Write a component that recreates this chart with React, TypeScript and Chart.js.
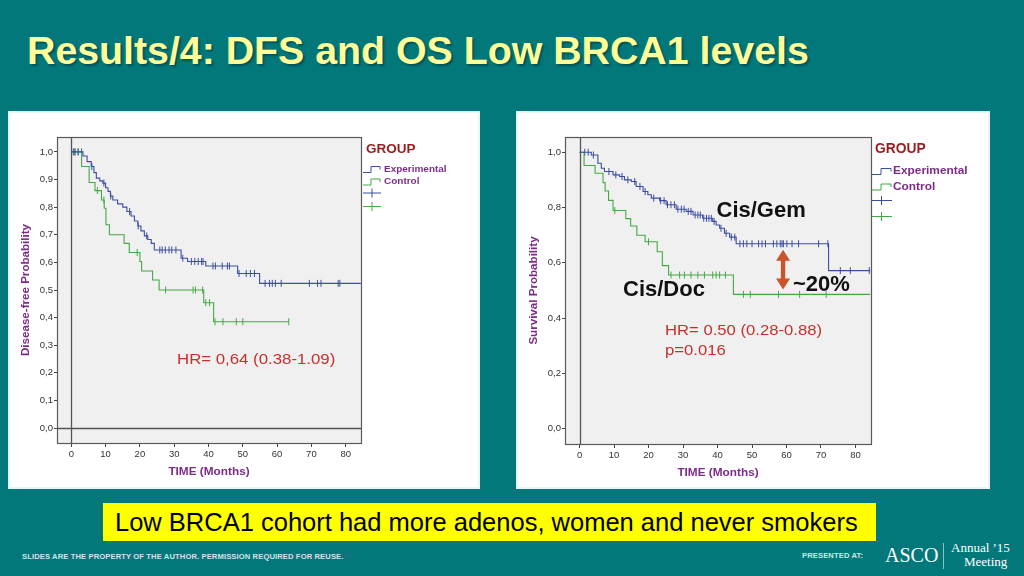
import React, { useEffect, useRef } from 'react';
import { Chart, registerables } from 'chart.js';

Chart.register(...registerables);

// ---------- tick labels / categories ----------
const TIME_TICKS = [0, 10, 20, 30, 40, 50, 60, 70, 80];
const DFS_Y_TICKS = [0, 0.1, 0.2, 0.3, 0.4, 0.5, 0.6, 0.7, 0.8, 0.9, 1.0];
const OS_Y_TICKS = [0, 0.2, 0.4, 0.6, 0.8, 1.0];
const GROUPS = ['Experimental', 'Control'];

// ---------- DFS (left) ----------
const dfsExpTimes = [0, 3.4, 4.6, 5.8, 6.6, 7.3, 8.3, 9.2, 10.0, 10.7, 11.4, 12.1, 13.5, 15.0, 16.2, 17.4, 18.4, 19.4, 20.3, 21.3, 22.3, 23.3, 24.2, 32.0, 33.9, 39.2, 48.5, 54.9];
const dfsExpSurv = [1.0, 0.985, 0.965, 0.947, 0.925, 0.905, 0.895, 0.887, 0.87, 0.857, 0.84, 0.826, 0.812, 0.8, 0.784, 0.768, 0.75, 0.732, 0.714, 0.696, 0.683, 0.669, 0.645, 0.615, 0.603, 0.587, 0.56, 0.524];
const dfsExpEnd = 84.4;
const dfsExpCensor = [0.6, 1.1, 2.0, 3.0, 6.0, 9.5, 11.5, 17.0, 19.5, 22.0, 25.8, 26.5, 27.4, 28.5, 29.3, 30.5, 32.5, 35.0, 36.0, 37.0, 38.0, 38.4, 41.3, 42.0, 44.0, 45.5, 46.1, 48.9, 51.0, 52.2, 53.4, 56.5, 57.8, 58.6, 59.5, 61.2, 69.4, 71.8, 72.8, 77.8, 78.3];

const dfsCtlTimes = [0, 3.0, 5.2, 6.9, 8.8, 9.6, 10.1, 11.1, 15.4, 16.9, 20.0, 20.5, 23.7, 25.6, 38.6, 41.5];
const dfsCtlSurv = [1.0, 0.947, 0.889, 0.86, 0.826, 0.796, 0.736, 0.7, 0.669, 0.636, 0.603, 0.569, 0.536, 0.5, 0.454, 0.385];
const dfsCtlEnd = 63.4;
const dfsCtlCensor = [1.0, 2.0, 7.6, 9.5, 19.2, 27.5, 35.5, 36.2, 38.3, 39.2, 40.3, 41.9, 44.2, 48.1, 50.0, 63.4];

// ---------- OS (right) ----------
const osExpTimes = [0, 3.4, 5.3, 6.3, 7.2, 9.7, 11.6, 13.0, 15.0, 16.4, 18.4, 19.8, 20.8, 23.2, 25.1, 28.0, 30.9, 32.9, 35.7, 38.6, 39.6, 40.6, 42.0, 43.5, 45.4, 72.2];
const osExpSurv = [1.0, 0.99, 0.96, 0.942, 0.93, 0.918, 0.912, 0.9, 0.894, 0.876, 0.858, 0.846, 0.834, 0.825, 0.81, 0.794, 0.786, 0.773, 0.761, 0.75, 0.737, 0.725, 0.707, 0.693, 0.669, 0.572];
const osExpEnd = 84.3;
const osExpCensor = [1.5, 2.5, 4.0, 8.5, 10.5, 12.3, 14.0, 16.0, 17.5, 19.0, 21.5, 23.5, 24.5, 25.5, 26.5, 27.5, 28.5, 29.5, 30.3, 31.5, 32.3, 33.5, 34.3, 35.0, 36.0, 36.8, 37.5, 38.2, 39.0, 41.0, 42.5, 44.0, 45.0, 46.5, 47.5, 48.5, 50.0, 51.9, 52.9, 53.9, 56.2, 57.2, 58.2, 58.7, 59.1, 60.1, 61.6, 63.5, 69.3, 72.0, 75.6, 78.5, 84.0];

const osCtlTimes = [0, 1.3, 4.5, 6.8, 7.4, 8.4, 9.7, 13.4, 14.8, 16.6, 19.0, 22.5, 24.0, 25.8, 44.6];
const osCtlSurv = [1.0, 0.952, 0.924, 0.89, 0.86, 0.826, 0.789, 0.76, 0.733, 0.7, 0.676, 0.64, 0.59, 0.556, 0.486];
const osCtlEnd = 84.3;
const osCtlCensor = [10.2, 20.0, 26.5, 29.0, 30.4, 32.3, 34.3, 36.2, 38.6, 39.6, 40.6, 42.3, 47.5, 49.5, 57.7, 63.8, 71.5];

// arrow marking the ~20% gap (time, lower and upper survival)
const gapArrowTime = 59.0;
const gapArrowLow = 0.504;
const gapArrowHigh = 0.647;

// ---------- styles ----------
const TEAL = '#03787b';
const BLUE = '#3c4ea0';
const GREEN = '#45a845';
const PURPLE = '#7c2c86';
const GROUP_RED = '#9b1c1c';
const NOTE_RED = '#c8302c';
const ARROW = '#c9542c';
const SANS = '"Liberation Sans", Arial, sans-serif';

type Curve = { times: number[]; surv: number[]; end: number; censor: number[] };
type Note = { text: string; x: number; y: number; font: string; color: string; sx?: number };
type Legend = {
  gx: number; gy: number; gSize: number;
  x0: number; xm: number; x1: number; tx: number; tFont: string; tsx: number;
  rowY: number[]; crossY: number[]; crossX: number;
};
type Spec = {
  id: string; width: number; height: number;
  area: { left: number; top: number; right: number; bottom: number };
  xRange: [number, number]; yRange: [number, number];
  yTicks: number[]; yTitle: string; yTitleSize: number; yTitlePad: number; xTitlePad: number;
  exp: Curve; ctl: Curve; zeroLine: boolean; legend: Legend; notes: Note[];
  arrow?: { x: number; low: number; high: number };
};

function stepPoints(c: Curve) {
  const pts = c.times.map((t, i) => ({ x: t, y: c.surv[i] }));
  pts.push({ x: c.end, y: c.surv[c.surv.length - 1] });
  return pts;
}
function survAt(c: Curve, t: number) {
  let v = c.surv[0];
  for (let i = 0; i < c.times.length; i++) if (c.times[i] <= t) v = c.surv[i];
  return v;
}
function censorPoints(c: Curve) {
  return c.censor.map((t) => ({ x: t, y: survAt(c, t) }));
}

function drawText(ctx: CanvasRenderingContext2D, s: string, x: number, y: number, font: string, color: string, sx = 1) {
  ctx.save();
  ctx.font = font;
  ctx.fillStyle = color;
  ctx.textBaseline = 'middle';
  ctx.textAlign = 'left';
  ctx.translate(x, y);
  ctx.scale(sx, 1);
  ctx.fillText(s, 0, 0);
  ctx.restore();
}

function decorPlugin(spec: Spec) {
  return {
    id: 'decor_' + spec.id,
    beforeDraw(chart: any) {
      const { ctx, chartArea: a } = chart;
      ctx.save();
      ctx.fillStyle = '#f0f0f0';
      ctx.fillRect(a.left, a.top, a.right - a.left, a.bottom - a.top);
      ctx.restore();
    },
    beforeDatasetsDraw(chart: any) {
      const { ctx, chartArea: a, scales } = chart;
      ctx.save();
      ctx.strokeStyle = '#555';
      ctx.lineWidth = 1.3;
      const x0 = Math.round(scales.x.getPixelForValue(0)) + 0.5;
      ctx.beginPath();
      ctx.moveTo(x0, a.top);
      ctx.lineTo(x0, a.bottom);
      ctx.stroke();
      if (spec.zeroLine) {
        const y0 = Math.round(scales.y.getPixelForValue(0)) + 0.5;
        ctx.beginPath();
        ctx.moveTo(a.left, y0);
        ctx.lineTo(a.right, y0);
        ctx.stroke();
      }
      ctx.restore();
    },
    afterDraw(chart: any) {
      const { ctx, chartArea: a, scales } = chart;
      ctx.save();
      ctx.strokeStyle = '#5a5a5a';
      ctx.lineWidth = 1.2;
      ctx.strokeRect(Math.round(a.left) + 0.5, Math.round(a.top) + 0.5, Math.round(a.right - a.left), Math.round(a.bottom - a.top));
      ctx.restore();

      // legend
      const L = spec.legend;
      drawText(ctx, 'GROUP', L.gx, L.gy, `bold ${L.gSize}px ${SANS}`, GROUP_RED);
      [BLUE, GREEN].forEach((c, i) => {
        const y = L.rowY[i];
        ctx.save();
        ctx.strokeStyle = c;
        ctx.lineWidth = 1;
        ctx.beginPath();
        ctx.moveTo(L.x0, y + 3.5);
        ctx.lineTo(L.xm, y + 3.5);
        ctx.lineTo(L.xm, y - 2.5);
        ctx.lineTo(L.x1, y - 2.5);
        ctx.lineTo(L.x1, y + 0.5);
        ctx.stroke();
        const cy = L.crossY[i];
        ctx.beginPath();
        ctx.moveTo(L.x0, cy + 0.5);
        ctx.lineTo(L.x1 + 1, cy + 0.5);
        ctx.moveTo(L.crossX + 0.5, cy - 4);
        ctx.lineTo(L.crossX + 0.5, cy + 5);
        ctx.stroke();
        ctx.restore();
        drawText(ctx, GROUPS[i], L.tx, y, L.tFont, PURPLE, L.tsx);
      });

      // notes
      spec.notes.forEach((n) => drawText(ctx, n.text, n.x, n.y, n.font, n.color, n.sx || 1));

      // arrow
      if (spec.arrow) {
        const ar = spec.arrow;
        const x = scales.x.getPixelForValue(ar.x);
        const yt = scales.y.getPixelForValue(ar.high);
        const yb = scales.y.getPixelForValue(ar.low);
        ctx.save();
        ctx.fillStyle = ARROW;
        ctx.fillRect(x - 2.2, yt + 8, 4.4, yb - yt - 16);
        ctx.beginPath();
        ctx.moveTo(x, yt);
        ctx.lineTo(x + 7, yt + 11);
        ctx.lineTo(x - 7, yt + 11);
        ctx.closePath();
        ctx.fill();
        ctx.beginPath();
        ctx.moveTo(x, yb);
        ctx.lineTo(x + 7, yb - 11);
        ctx.lineTo(x - 7, yb - 11);
        ctx.closePath();
        ctx.fill();
        ctx.restore();
      }
    },
  };
}

function buildConfig(spec: Spec): any {
  const a = spec.area;
  const tickFont = { family: SANS, size: 9.5 };
  const curveDs = (c: Curve, color: string) => ({
    type: 'line',
    data: stepPoints(c),
    stepped: true,
    borderColor: color,
    borderWidth: 1.1,
    pointRadius: 0,
    fill: false,
  });
  const censorDs = (c: Curve, color: string) => ({
    type: 'scatter',
    data: censorPoints(c),
    showLine: false,
    pointStyle: 'line',
    pointRotation: 90,
    pointRadius: 3.5,
    pointBorderColor: color,
    pointBackgroundColor: color,
    pointBorderWidth: 1,
  });
  return {
    type: 'scatter',
    data: {
      datasets: [
        curveDs(spec.exp, BLUE),
        curveDs(spec.ctl, GREEN),
        censorDs(spec.exp, BLUE),
        censorDs(spec.ctl, GREEN),
      ],
    },
    options: {
      responsive: false,
      animation: false,
      events: [],
      layout: { padding: { left: 0, top: a.top, right: spec.width - a.right, bottom: 0 } },
      plugins: { legend: { display: false }, tooltip: { enabled: false }, title: { display: false } },
      scales: {
        x: {
          type: 'linear',
          min: spec.xRange[0],
          max: spec.xRange[1],
          afterFit: (s: any) => { s.height = spec.height - a.bottom; },
          afterBuildTicks: (s: any) => { s.ticks = TIME_TICKS.map((v) => ({ value: v })); },
          grid: { display: true, drawOnChartArea: false, drawTicks: true, tickLength: 4, color: '#444', lineWidth: 1 },
          border: { display: false },
          ticks: { font: tickFont, color: '#333', padding: 2, autoSkip: false, maxRotation: 0, callback: (v: any) => String(v) },
          title: { display: true, text: 'TIME (Months)', color: PURPLE, font: { family: SANS, size: 11.8, weight: 'bold' }, padding: { top: 0, bottom: spec.xTitlePad } },
        },
        y: {
          type: 'linear',
          min: spec.yRange[0],
          max: spec.yRange[1],
          afterFit: (s: any) => { s.width = a.left; },
          afterBuildTicks: (s: any) => { s.ticks = spec.yTicks.map((v) => ({ value: v })); },
          grid: { display: true, drawOnChartArea: false, drawTicks: true, tickLength: 3, color: '#444', lineWidth: 1 },
          border: { display: false },
          ticks: { font: tickFont, color: '#333', padding: 1, autoSkip: false, callback: (v: any) => Number(v).toFixed(1).replace('.', ',') },
          title: { display: true, text: spec.yTitle, color: PURPLE, font: { family: SANS, size: spec.yTitleSize, weight: 'bold' }, padding: { top: spec.yTitlePad, bottom: 0 } },
        },
      },
    },
    plugins: [decorPlugin(spec)],
  };
}

const dfsSpec: Spec = {
  id: 'dfs', width: 472, height: 378,
  area: { left: 49, top: 26, right: 353, bottom: 332 },
  xRange: [-4.17, 84.46], yRange: [-0.054, 1.054],
  yTicks: DFS_Y_TICKS, yTitle: 'Disease-free Probability', yTitleSize: 11.6, yTitlePad: 11.3, xTitlePad: 10,
  exp: { times: dfsExpTimes, surv: dfsExpSurv, end: dfsExpEnd, censor: dfsExpCensor },
  ctl: { times: dfsCtlTimes, surv: dfsCtlSurv, end: dfsCtlEnd, censor: dfsCtlCensor },
  zeroLine: true,
  legend: {
    gx: 358, gy: 38, gSize: 13.5,
    x0: 355, xm: 363, x1: 372, tx: 376, tFont: `bold 9.5px ${SANS}`, tsx: 1.05,
    rowY: [58, 70.5], crossY: [81.5, 95], crossX: 363.5,
  },
  notes: [
    { text: 'HR= 0,64 (0.38-1.09)', x: 169, y: 249, font: `14px ${SANS}`, color: NOTE_RED, sx: 1.2 },
  ],
};

const osSpec: Spec = {
  id: 'os', width: 474, height: 378,
  area: { left: 49, top: 26, right: 355, bottom: 333 },
  xRange: [-4.23, 84.5], yRange: [-0.055, 1.055],
  yTicks: OS_Y_TICKS, yTitle: 'Survival Probability', yTitleSize: 11.6, yTitlePad: 11, xTitlePad: 9.6,
  exp: { times: osExpTimes, surv: osExpSurv, end: osExpEnd, censor: osExpCensor },
  ctl: { times: osCtlTimes, surv: osCtlSurv, end: osCtlEnd, censor: osCtlCensor },
  zeroLine: false,
  legend: {
    gx: 359, gy: 38, gSize: 13.8,
    x0: 356, xm: 365, x1: 375, tx: 377, tFont: `bold 11px ${SANS}`, tsx: 1.08,
    rowY: [60, 75.5], crossY: [89, 105], crossX: 365,
  },
  notes: [
    { text: 'Cis/Gem', x: 200.5, y: 99.5, font: `bold 22px ${SANS}`, color: '#111' },
    { text: 'Cis/Doc', x: 107, y: 179, font: `bold 22px ${SANS}`, color: '#111' },
    { text: '~20%', x: 277, y: 173.5, font: `bold 22px ${SANS}`, color: '#111' },
    { text: 'HR= 0.50 (0.28-0.88)', x: 149, y: 220, font: `14px ${SANS}`, color: NOTE_RED, sx: 1.19 },
    { text: 'p=0.016', x: 149, y: 240.5, font: `14px ${SANS}`, color: NOTE_RED, sx: 1.19 },
  ],
  arrow: { x: gapArrowTime, low: gapArrowLow, high: gapArrowHigh },
};

function KMChart({ spec }: { spec: Spec }) {
  const ref = useRef<HTMLCanvasElement>(null);
  useEffect(() => {
    const chart = new Chart(ref.current as HTMLCanvasElement, buildConfig(spec));
    return () => chart.destroy();
  }, [spec]);
  return (
    <canvas
      ref={ref}
      width={spec.width}
      height={spec.height}
      style={{ position: 'absolute', left: 0, top: 0, width: spec.width, height: spec.height }}
    />
  );
}

function Panel({ left, top, spec }: { left: number; top: number; spec: Spec }) {
  return (
    <div
      style={{
        position: 'absolute', left, top, width: spec.width, height: spec.height,
        background: '#ffffff', boxShadow: 'inset 0 0 0 2px #e4f6f6',
      }}
    >
      <KMChart spec={spec} />
    </div>
  );
}

export default function App() {
  return (
    <div
      style={{
        position: 'fixed', left: 0, top: 0, width: 1024, height: 576, overflow: 'hidden',
        background: TEAL, fontFamily: SANS,
      }}
    >
      <div
        style={{
          position: 'absolute', left: 27, top: 28, fontSize: 39.3, lineHeight: '44px', fontWeight: 'bold',
          color: '#ffff99', whiteSpace: 'nowrap', textShadow: '2px 2px 2px rgba(0,40,40,0.45)',
        }}
      >
        Results/4: DFS and OS Low BRCA1 levels
      </div>

      <Panel left={8} top={111} spec={dfsSpec} />
      <Panel left={516} top={111} spec={osSpec} />

      <div
        style={{
          position: 'absolute', left: 103, top: 503, width: 773, height: 38, background: '#ffff00',
          color: '#000', fontSize: 25.5, lineHeight: '38px', paddingLeft: 12, boxSizing: 'border-box', whiteSpace: 'nowrap',
        }}
      >
        Low BRCA1 cohort had more adenos, women and never smokers
      </div>

      <div
        style={{
          position: 'absolute', left: 22, top: 552, fontSize: 7.6, lineHeight: '10px', fontWeight: 'bold',
          letterSpacing: 0.12, color: '#cfe6e6', whiteSpace: 'nowrap',
        }}
      >
        SLIDES ARE THE PROPERTY OF THE AUTHOR. PERMISSION REQUIRED FOR REUSE.
      </div>
      <div
        style={{
          position: 'absolute', left: 802, top: 551, fontSize: 7.6, lineHeight: '10px', fontWeight: 'bold',
          letterSpacing: 0.12, color: '#cfe6e6', whiteSpace: 'nowrap',
        }}
      >
        PRESENTED AT:
      </div>
      <div
        style={{
          position: 'absolute', left: 885, top: 543, fontSize: 20, lineHeight: '24px',
          fontFamily: '"Liberation Serif", "DejaVu Serif", serif', color: '#ffffff', whiteSpace: 'nowrap',
        }}
      >
        ASCO
      </div>
      <div style={{ position: 'absolute', left: 943, top: 543, width: 1, height: 26, background: 'rgba(255,255,255,0.55)' }} />
      <div
        style={{
          position: 'absolute', left: 951, top: 541, fontSize: 13, lineHeight: '14px',
          fontFamily: '"Liberation Serif", "DejaVu Serif", serif', color: '#ffffff', whiteSpace: 'nowrap',
        }}
      >
        Annual ’15
      </div>
      <div
        style={{
          position: 'absolute', left: 964, top: 555, fontSize: 13, lineHeight: '14px',
          fontFamily: '"Liberation Serif", "DejaVu Serif", serif', color: '#ffffff', whiteSpace: 'nowrap',
        }}
      >
        Meeting
      </div>
    </div>
  );
}
